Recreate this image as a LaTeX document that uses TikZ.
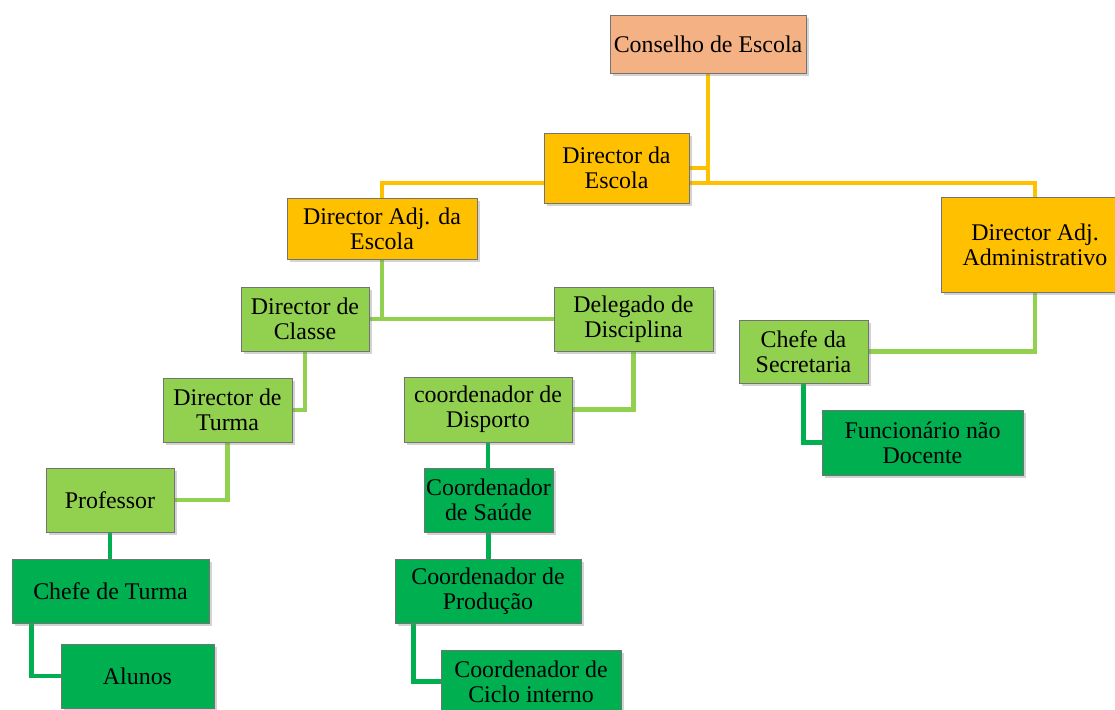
\documentclass[tikz,border=0pt]{standalone}
\usepackage{fontspec}
\setmainfont{Liberation Serif}
\usetikzlibrary{shadows,backgrounds,calc}
\definecolor{salmon}{HTML}{F4B183}
\definecolor{gold}{HTML}{FFC000}
\definecolor{lgreen}{HTML}{92D050}
\definecolor{dgreen}{HTML}{00B050}
\tikzset{
  box/.style={rectangle, draw=black!55, line width=0.8pt, inner sep=0pt, align=center,
    font=\fontsize{23.9}{25}\selectfont,
    drop shadow={opacity=0.35, shadow xshift=2.5pt, shadow yshift=-3pt}},
  bx/.style args={#1/#2/#3/#4}{box, minimum width=#3-#1, minimum height=#4-#2},
  conn/.style={line width=4.5pt, line cap=butt, line join=miter},
  cgold/.style={conn, draw=gold},
  clg/.style={conn, draw=lgreen},
  cdg/.style={conn, draw=dgreen}
}
\begin{document}
\begin{tikzpicture}[x=1pt,y=-1pt]
\useasboundingbox (0,0) rectangle (1115,709);
% nodes
\node[bx=610/15/806/73, fill=salmon] (cons) at (708,44) {Conselho de Escola};
\node[bx=544/133/689/203, fill=gold] (dir) at (616.5,168) {Director da\\Escola};
\node[bx=287/198/477/259, fill=gold] (adj) at (382,228.5) {Director Adj. da\\Escola};
\node[bx=941/197/1129/292, fill=gold] (adm) at (1035,244.5) {Director Adj.\\Administrativo};
\node[bx=241/287/369/351, fill=lgreen] (classe) at (305,319) {Director de\\Classe};
\node[bx=554/287/713/351, fill=lgreen] (deleg) at (633.5,319) {Delegado de\\Disciplina};
\node[bx=739/320/868/383, fill=lgreen] (secr) at (803.5,351.5) {Chefe da\\Secretaria};
\node[bx=822/410/1023/475, fill=dgreen] (func) at (922.5,442.5) {Funcionário não\\Docente};
\node[bx=163/378/292/442, fill=lgreen] (turma) at (227.5,410) {Director de\\Turma};
\node[bx=46/468/174/532, fill=lgreen] (prof) at (110,500) {Professor};
\node[bx=12/559/209/623, fill=dgreen] (chefet) at (110.5,591) {Chefe de Turma};
\node[bx=61/644/214/708, fill=dgreen] (alunos) at (137.5,676) {Alunos};
\node[bx=404/377/572/442, fill=lgreen] (disp) at (488,409.5) {coordenador de\\Disporto};
\node[bx=424/468/553/532, fill=dgreen] (saude) at (488.5,500) {Coordenador\\de Saúde};
\node[bx=395/559/581/623, fill=dgreen] (prod) at (488,591) {Coordenador de\\Produção};
\node[bx=441/650/621/713, fill=dgreen] (ciclo) at (531,681.5) {Coordenador de\\Ciclo interno};
% connectors
\begin{scope}[on background layer]
\coordinate (hl) at (0,183);
\draw[cgold] (cons.south) |- (dir.east);
\draw[cgold] (dir.east -| cons.south) -- (hl -| cons.south);
\draw[cgold] (adj.north) -- (adj.north |- hl) -- (hl -| adm.north) -- (adm.north);
\draw[clg] (adj.south) -- (adj.south |- classe.east);
\draw[clg] (classe.east) -- (deleg.west);
\draw[clg] (classe.south) |- (turma.east);
\draw[clg] (turma.south) |- (prof.east);
\draw[cdg] (prof.south) -- (prof.south |- chefet.north);
\coordinate (ct) at ($(chefet.south west)+(20,0)$);
\draw[cdg] (ct) |- (alunos.west);
\draw[clg] (deleg.south) |- (disp.east);
\draw[cdg] (disp.south) -- (disp.south |- saude.north);
\draw[cdg] (saude.south) -- (saude.south |- prod.north);
\coordinate (pd) at ($(prod.south west)+(19,0)$);
\draw[cdg] (pd) |- (ciclo.west);
\draw[clg] (adm.south) |- (secr.east);
\draw[cdg] (secr.south) |- (func.west);
\end{scope}
\end{tikzpicture}
\end{document}
